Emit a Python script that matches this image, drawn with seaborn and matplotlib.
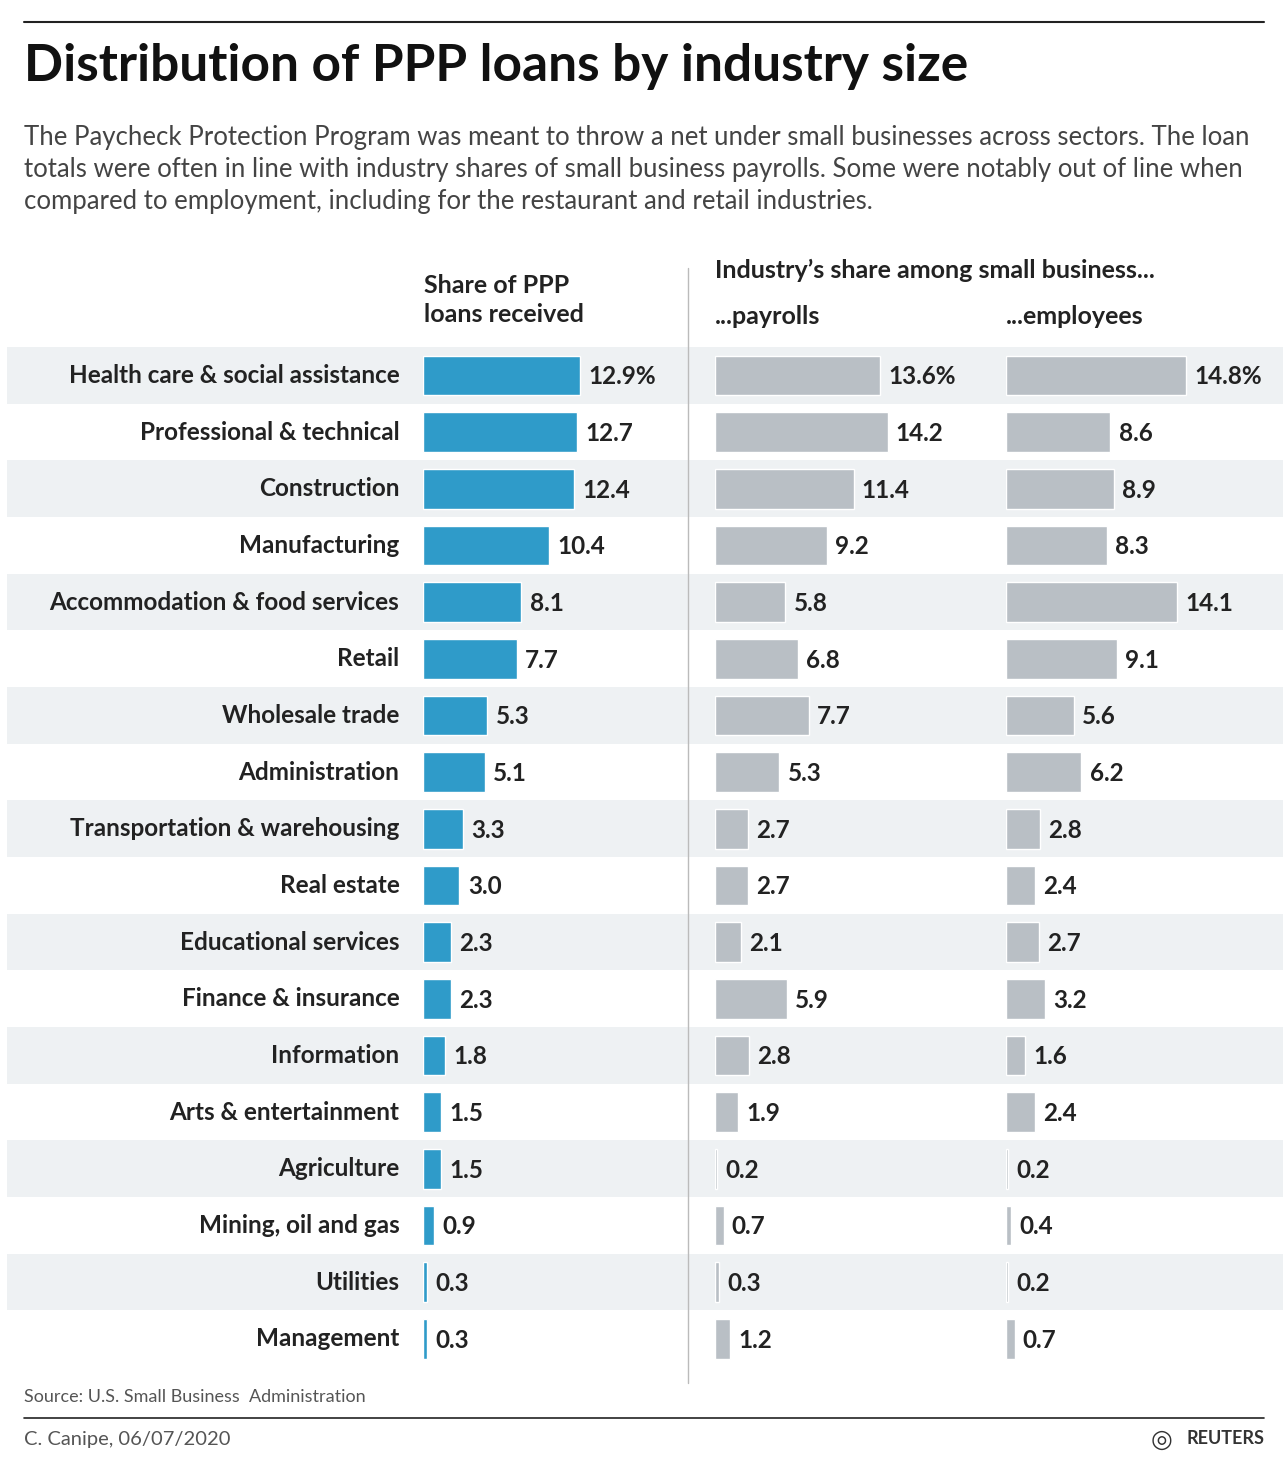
import matplotlib
matplotlib.use("Agg")
import matplotlib.pyplot as plt
import seaborn as sns
import pandas as pd

sns.set_theme(style="white")
plt.rcParams['font.family'] = ['Lato', 'DejaVu Sans']

categories = ["Health care & social assistance", "Professional & technical", "Construction",
              "Manufacturing", "Accommodation & food services", "Retail", "Wholesale trade",
              "Administration", "Transportation & warehousing", "Real estate",
              "Educational services", "Finance & insurance", "Information",
              "Arts & entertainment", "Agriculture", "Mining, oil and gas", "Utilities", "Management"]
ppp_share = [12.9, 12.7, 12.4, 10.4, 8.1, 7.7, 5.3, 5.1, 3.3, 3.0, 2.3, 2.3, 1.8, 1.5, 1.5, 0.9, 0.3, 0.3]
payroll_share = [13.6, 14.2, 11.4, 9.2, 5.8, 6.8, 7.7, 5.3, 2.7, 2.7, 2.1, 5.9, 2.8, 1.9, 0.2, 0.7, 0.3, 1.2]
employee_share = [14.8, 8.6, 8.9, 8.3, 14.1, 9.1, 5.6, 6.2, 2.8, 2.4, 2.7, 3.2, 1.6, 2.4, 0.2, 0.4, 0.2, 0.7]

W, H = 1288, 1470
fig = plt.figure(figsize=(W/100, H/100), dpi=100)

def fx(px): return px / W
def fy(py): return 1 - py / H

top, bot = 347, 1367
n = len(categories)
bg = fig.add_axes([fx(7), fy(bot), fx(1283-7), (bot-top)/H])
bg.set_xlim(0, 1); bg.set_ylim(n - 0.5, -0.5)
for i in range(0, n, 2):
    bg.axhspan(i - 0.5, i + 0.5, color="#eef1f3", lw=0)
bg.axis("off")

df = pd.DataFrame({"cat": categories, "ppp": ppp_share, "pay": payroll_share, "emp": employee_share})
scale = 12.15  # px per unit
panels = [("ppp", 423, "#2f9bc9"), ("pay", 715, "#b9bfc5"), ("emp", 1006, "#b9bfc5")]
for col, x0, color in panels:
    wpx = 270
    ax = fig.add_axes([fx(x0), fy(bot), fx(wpx), (bot-top)/H])
    ax.patch.set_alpha(0)
    sns.barplot(data=df, x=col, y="cat", ax=ax, color=color, width=0.7, saturation=1, orient="h")
    ax.set_xlim(0, wpx/scale)
    ax.set_ylim(n - 0.5, -0.5)
    for i, v in enumerate(df[col]):
        lab = f"{v:.1f}%" if i == 0 else f"{v:.1f}"
        ax.annotate(lab, (v, i), xytext=(6, -1), textcoords="offset points", va="center",
                    ha="left", fontsize=17.5, color="#222222", fontweight="bold")
    ax.set_xlabel(""); ax.set_ylabel("")
    ax.set_xticks([])
    if col == "ppp":
        ax.set_yticks(range(n))
        ax.set_yticklabels(categories, fontsize=17.5, color="#222222", fontweight="bold")
        ax.tick_params(axis="y", length=0, pad=17)
        for t in ax.get_yticklabels():
            t.set_va("center")
    else:
        ax.set_yticks([])
    for s in ax.spines.values():
        s.set_visible(False)

fig.text(fx(24), fy(67), "Distribution of PPP loans by industry size", fontsize=37,
         fontweight="bold", va="center", color="#111111")
fig.text(fx(24), fy(125), "The Paycheck Protection Program was meant to throw a net under small businesses across sectors. The loan\n"
         "totals were often in line with industry shares of small business payrolls. Some were notably out of line when\n"
         "compared to employment, including for the restaurant and retail industries.",
         fontsize=18.5, va="top", color="#444444", linespacing=1.36)
fig.text(fx(424), fy(300), "Share of PPP\nloans received", fontsize=18, fontweight="bold",
         va="center", color="#222222", linespacing=1.35)
fig.text(fx(715), fy(270), "Industry\u2019s share among small business...", fontsize=18,
         fontweight="bold", va="center", color="#222222")
fig.text(fx(715), fy(316), "...payrolls", fontsize=18, fontweight="bold", va="center", color="#222222")
fig.text(fx(1006), fy(316), "...employees", fontsize=18, fontweight="bold", va="center", color="#222222")
fig.text(fx(24), fy(1397), "Source: U.S. Small Business  Administration", fontsize=13, va="center", color="#555555")
fig.text(fx(24), fy(1439), "C. Canipe, 06/07/2020", fontsize=14.5, va="center", color="#555555")
fig.text(fx(1264), fy(1439), "REUTERS", fontsize=13, fontweight="bold", va="center", ha="right", color="#333333")
fig.text(fx(1162), fy(1439), "\u25CE", fontsize=18, va="center", ha="center", color="#333333")

fig.add_artist(plt.Line2D([fx(24), fx(1264)], [fy(22), fy(22)], color="#222222", lw=1.5))
fig.add_artist(plt.Line2D([fx(24), fx(1264)], [fy(1418), fy(1418)], color="#222222", lw=1.2))
fig.add_artist(plt.Line2D([fx(688), fx(688)], [fy(268), fy(1383)], color="#bbbbbb", lw=1))

fig.savefig("out.png", dpi=100)
